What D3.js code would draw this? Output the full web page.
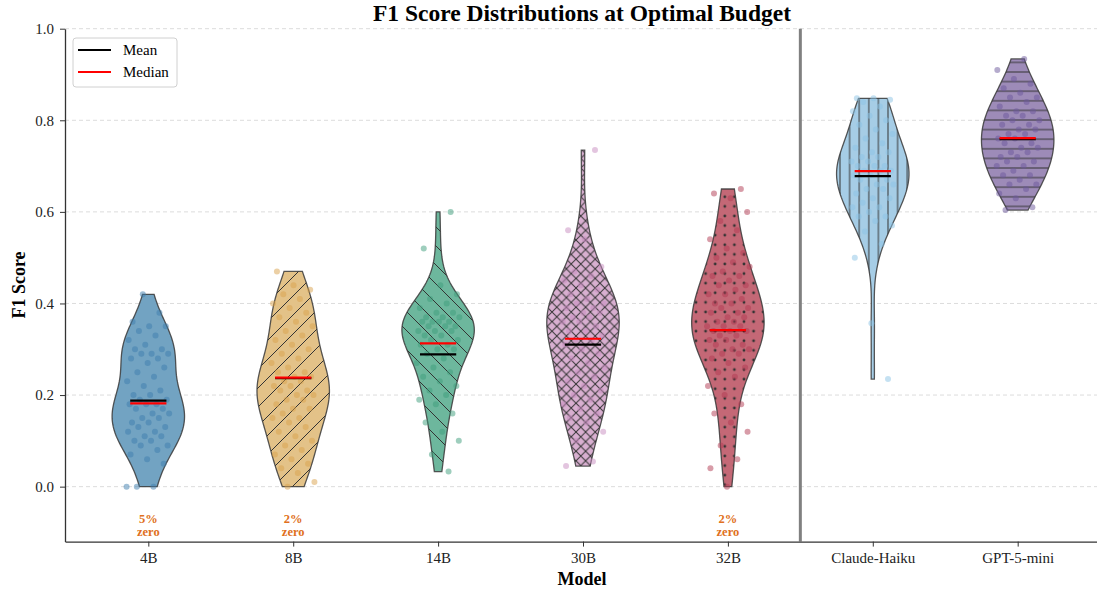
<!DOCTYPE html>
<html>
<head>
<meta charset="utf-8">
<script src="https://cdn.jsdelivr.net/npm/d3@7"></script>
<style>
  body { margin: 0; background: #fff; }
  text { font-family: "Liberation Serif", "Times New Roman", serif; }
</style>
</head>
<body>
<div id="chart"></div>
<script>
// categories
const models = ["4B", "8B", "14B", "30B", "32B", "Claude-Haiku", "GPT-5-mini"];

// F1 scores per model
const scores4B = [0, 0, 0, 0.05, 0.06, 0.07, 0.08, 0.09, 0.09, 0.10, 0.10, 0.11, 0.11, 0.12, 0.12,
  0.13, 0.13, 0.14, 0.14, 0.15, 0.15, 0.16, 0.16, 0.17, 0.17, 0.18, 0.18, 0.18, 0.19, 0.19, 0.20,
  0.20, 0.21, 0.22, 0.23, 0.24, 0.25, 0.26, 0.27, 0.28, 0.28, 0.29, 0.29, 0.29, 0.30, 0.30, 0.31,
  0.32, 0.33, 0.34, 0.35, 0.35, 0.36, 0.38, 0.42];
const scores8B = [0, 0.01, 0.03, 0.04, 0.05, 0.06, 0.07, 0.08, 0.09, 0.10, 0.11, 0.12, 0.13, 0.14,
  0.15, 0.15, 0.16, 0.17, 0.17, 0.18, 0.19, 0.19, 0.20, 0.20, 0.21, 0.21, 0.22, 0.22, 0.23, 0.23,
  0.24, 0.24, 0.25, 0.25, 0.26, 0.27, 0.28, 0.29, 0.30, 0.31, 0.32, 0.33, 0.34, 0.35, 0.36, 0.37,
  0.38, 0.39, 0.40, 0.41, 0.42, 0.43, 0.44, 0.47];
const scores14B = [0.033, 0.07, 0.10, 0.12, 0.14, 0.16, 0.18, 0.19, 0.20, 0.21, 0.22, 0.23, 0.24,
  0.25, 0.26, 0.27, 0.28, 0.29, 0.30, 0.30, 0.31, 0.31, 0.32, 0.32, 0.33, 0.33, 0.34, 0.34, 0.34,
  0.35, 0.35, 0.35, 0.36, 0.36, 0.36, 0.36, 0.37, 0.37, 0.37, 0.38, 0.38, 0.39, 0.40, 0.41, 0.42,
  0.44, 0.52, 0.60];
const scores30B = [0.045, 0.055, 0.10, 0.12, 0.14, 0.15, 0.16, 0.17, 0.18, 0.19, 0.20, 0.21, 0.22,
  0.23, 0.24, 0.25, 0.26, 0.27, 0.28, 0.29, 0.30, 0.31, 0.32, 0.32, 0.33, 0.34, 0.34, 0.35, 0.36,
  0.36, 0.37, 0.37, 0.38, 0.38, 0.39, 0.39, 0.40, 0.40, 0.41, 0.42, 0.43, 0.44, 0.45, 0.46, 0.47,
  0.48, 0.54, 0.56, 0.735];
const scores32B = [0, 0.04, 0.06, 0.09, 0.12, 0.14, 0.16, 0.18, 0.20, 0.22, 0.24, 0.25, 0.26, 0.27,
  0.28, 0.29, 0.29, 0.30, 0.30, 0.31, 0.31, 0.32, 0.32, 0.33, 0.33, 0.34, 0.34, 0.34, 0.35, 0.35,
  0.35, 0.36, 0.36, 0.37, 0.37, 0.38, 0.38, 0.39, 0.39, 0.40, 0.40, 0.41, 0.42, 0.42, 0.43, 0.44,
  0.44, 0.45, 0.46, 0.46, 0.47, 0.48, 0.49, 0.50, 0.51, 0.52, 0.54, 0.56, 0.58, 0.60, 0.63, 0.64, 0.65];
const scoresHaiku = [0.235, 0.357, 0.50, 0.53, 0.557, 0.57, 0.58, 0.59, 0.59, 0.60, 0.61, 0.61,
  0.62, 0.63, 0.63, 0.64, 0.65, 0.65, 0.66, 0.66, 0.67, 0.67, 0.68, 0.68, 0.69, 0.69, 0.69, 0.70,
  0.70, 0.70, 0.71, 0.71, 0.72, 0.72, 0.73, 0.73, 0.74, 0.75, 0.76, 0.77, 0.78, 0.79, 0.80, 0.81,
  0.82, 0.83, 0.84, 0.845, 0.848, 0.848];
const scoresGPT = [0.604, 0.61, 0.63, 0.64, 0.65, 0.66, 0.66, 0.67, 0.68, 0.68, 0.69, 0.70, 0.70,
  0.71, 0.71, 0.72, 0.72, 0.73, 0.73, 0.74, 0.74, 0.75, 0.75, 0.76, 0.76, 0.77, 0.77, 0.78, 0.78,
  0.79, 0.79, 0.80, 0.80, 0.81, 0.81, 0.82, 0.82, 0.83, 0.84, 0.85, 0.85, 0.86, 0.87, 0.88, 0.89,
  0.91, 0.934];
const scoreSets = [scores4B, scores8B, scores14B, scores30B, scores32B, scoresHaiku, scoresGPT];

// summary lines and zero labels as printed in the chart
const means = [0.188, 0.237, 0.289, 0.310, 0.342, 0.678, 0.759];
const medians = [0.182, 0.238, 0.313, 0.323, 0.342, 0.689, 0.761];
const zeroLabels = ["5%", "2%", null, null, "2%", null, null];
const yTicks = [0, 0.2, 0.4, 0.6, 0.8, 1.0];

const fillColors = ["#72a3c2", "#e3c288", "#6db79d", "#d8afd0", "#c46876", "#a6cde6", "#9d8bb8"];
const dotColors = ["#3e7eae", "#d9a24c", "#3d9e7c", "#c88cbf", "#b23a52", "#8cc3e6", "#6c579b"];
const hatches = [null, "/", "\\", "x", ".", "|", "-"];

const width = 1097, height = 590;
const margin = { top: 28.7, right: -4, bottom: 48.4, left: 65 };

const svg = d3.select("#chart").append("svg")
  .attr("width", width).attr("height", height);

const x = d3.scaleLinear().domain([-0.575, 6.575]).range([margin.left, width - margin.right]);
const y = d3.scaleLinear().domain([-0.12, 1.0]).range([height - margin.bottom, margin.top]);

// hatch patterns
const defs = svg.append("defs");
const ink = "#333";
function addPattern(id, w, h, draw) {
  const p = defs.append("pattern").attr("id", id)
    .attr("patternUnits", "userSpaceOnUse").attr("width", w).attr("height", h);
  draw(p);
}
addPattern("h-slash", 19, 19, p => p.append("path")
  .attr("d", "M-2,21 L21,-2 M-5,5 L5,-5 M14,24 L24,14").attr("stroke", ink).attr("stroke-width", 1));
addPattern("h-back", 19, 19, p => p.append("path")
  .attr("d", "M-2,-2 L21,21 M-5,14 L5,24 M14,-5 L24,5").attr("stroke", ink).attr("stroke-width", 1));
addPattern("h-x", 9.6, 9.6, p => p.append("path")
  .attr("d", "M-1,10.6 L10.6,-1 M-1,-1 L10.6,10.6").attr("stroke", ink).attr("stroke-width", 1));
addPattern("h-dot", 9.6, 9.6, p => p.append("circle")
  .attr("cx", 4.8).attr("cy", 4.8).attr("r", 1.4).attr("fill", ink));
addPattern("h-vert", 9.6, 9.6, p => p.append("path")
  .attr("d", "M4.8,0 V9.6").attr("stroke", ink).attr("stroke-width", 1));
addPattern("h-horiz", 9.6, 9.6, p => p.append("path")
  .attr("d", "M0,4.8 H9.6").attr("stroke", ink).attr("stroke-width", 1));
const hatchId = { "/": "h-slash", "\\": "h-back", "x": "h-x", ".": "h-dot", "|": "h-vert", "-": "h-horiz" };

// grid
svg.append("g").selectAll("line").data(yTicks).join("line")
  .attr("x1", margin.left).attr("x2", width)
  .attr("y1", d => y(d)).attr("y2", d => y(d))
  .attr("stroke", "#dcdcdc").attr("stroke-width", 1).attr("stroke-dasharray", "4,3");

// gaussian kde, Scott bandwidth, cut at data range
function kdeProfile(values, nPts = 100) {
  const n = values.length;
  const bw = d3.deviation(values) * Math.pow(n, -0.2);
  const lo = d3.min(values), hi = d3.max(values);
  const grid = d3.range(nPts).map(i => lo + (hi - lo) * i / (nPts - 1));
  const dens = grid.map(v => d3.sum(values, s => Math.exp(-0.5 * ((v - s) / bw) ** 2)));
  const mx = d3.max(dens);
  return grid.map((v, i) => ({ v, w: dens[i] / mx }));
}

const halfWidth = 0.25;
const plot = svg.append("g");

scoreSets.forEach((vals, k) => {
  const prof = kdeProfile(vals);
  const area = d3.area()
    .y(d => y(d.v))
    .x0(d => x(k - d.w * halfWidth))
    .x1(d => x(k + d.w * halfWidth));
  const g = plot.append("g");
  g.append("path").attr("d", area(prof)).attr("fill", fillColors[k]);
  if (hatches[k]) {
    g.append("path").attr("d", area(prof)).attr("fill", `url(#${hatchId[hatches[k]]})`);
  }
  g.append("path").attr("d", area(prof)).attr("fill", "none")
    .attr("stroke", "#3a3a3a").attr("stroke-width", 1.3).attr("stroke-opacity", 0.85);

  // jittered points (golden-ratio spread, deterministic)
  g.selectAll("circle").data(vals).join("circle")
    .attr("cx", (d, i) => x(k + (((i * 0.618034 + k * 0.37) % 1) - 0.5) * 0.3))
    .attr("cy", d => y(d))
    .attr("r", 3)
    .attr("fill", dotColors[k])
    .attr("fill-opacity", 0.5);

  g.append("line")
    .attr("x1", x(k - 0.125)).attr("x2", x(k + 0.125))
    .attr("y1", y(means[k])).attr("y2", y(means[k]))
    .attr("stroke", "black").attr("stroke-width", 2.2);
  g.append("line")
    .attr("x1", x(k - 0.125)).attr("x2", x(k + 0.125))
    .attr("y1", y(medians[k])).attr("y2", y(medians[k]))
    .attr("stroke", "red").attr("stroke-width", 2.2);

  if (zeroLabels[k]) {
    const t = g.append("text").attr("x", x(k)).attr("text-anchor", "middle")
      .attr("fill", "#e07020").attr("font-weight", "bold").attr("font-size", 12.5);
    t.append("tspan").attr("x", x(k)).attr("y", 523).text(zeroLabels[k]);
    t.append("tspan").attr("x", x(k)).attr("y", 536).text("zero");
  }
});

// separator between local models and API models
svg.append("line")
  .attr("x1", x(4.5)).attr("x2", x(4.5))
  .attr("y1", y(1.0)).attr("y2", y(-0.12))
  .attr("stroke", "#808080").attr("stroke-width", 3);

// axes
const xAxis = svg.append("g")
  .attr("transform", `translate(0,${height - margin.bottom})`)
  .call(d3.axisBottom(x).tickValues(d3.range(models.length)).tickFormat(i => models[i])
    .tickSizeInner(5).tickSizeOuter(0).tickPadding(6));
const yAxis = svg.append("g")
  .attr("transform", `translate(${margin.left},0)`)
  .call(d3.axisLeft(y).tickValues(yTicks).tickFormat(d3.format(".1f"))
    .tickSizeInner(5).tickSizeOuter(0).tickPadding(6));
[xAxis, yAxis].forEach(a => {
  a.selectAll("text").attr("font-family", "Liberation Serif, serif").attr("font-size", 15).attr("fill", "#222");
  a.selectAll("line").attr("stroke", "#333");
  a.select(".domain").attr("stroke", "#333").attr("stroke-width", 1.3);
});

// labels
svg.append("text").attr("x", 582).attr("y", 21).attr("text-anchor", "middle")
  .attr("font-weight", "bold").attr("font-size", 23.5).text("F1 Score Distributions at Optimal Budget");
svg.append("text").attr("x", 582).attr("y", 585).attr("text-anchor", "middle")
  .attr("font-weight", "bold").attr("font-size", 18).text("Model");
svg.append("text").attr("transform", "translate(24.5,285) rotate(-90)").attr("text-anchor", "middle")
  .attr("font-weight", "bold").attr("font-size", 18).text("F1 Score");

// legend
const legend = svg.append("g").attr("transform", "translate(73,38)");
legend.append("rect").attr("width", 104).attr("height", 49).attr("rx", 3)
  .attr("fill", "white").attr("fill-opacity", 0.85).attr("stroke", "#d0d0d0");
[["Mean", "black"], ["Median", "red"]].forEach(([lab, c], i) => {
  legend.append("line").attr("x1", 5).attr("x2", 38).attr("y1", 12 + i * 22).attr("y2", 12 + i * 22)
    .attr("stroke", c).attr("stroke-width", 2);
  legend.append("text").attr("x", 50).attr("y", 17 + i * 22).attr("font-size", 15).text(lab);
});
</script>
</body>
</html>
